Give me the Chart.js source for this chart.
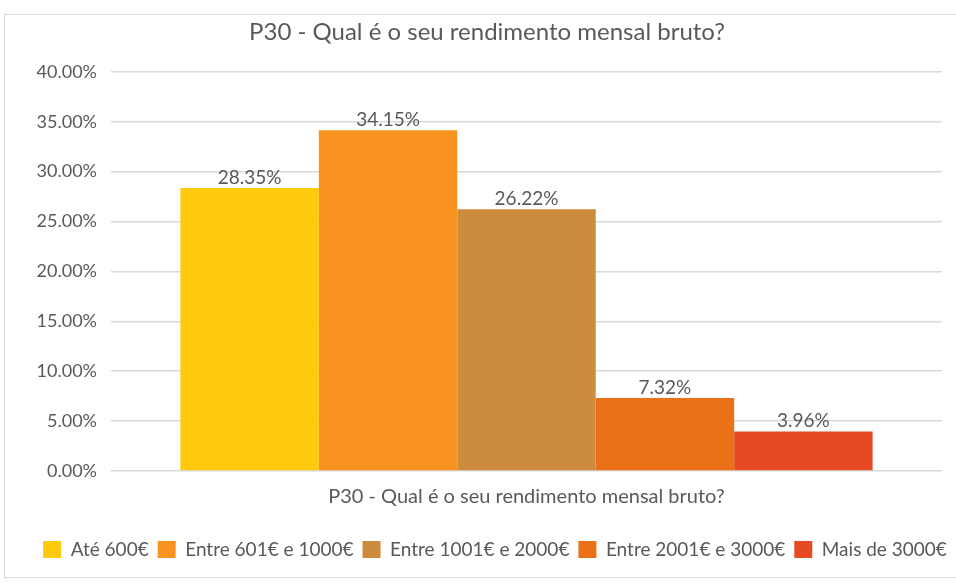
<!DOCTYPE html>
<html>
<head>
<meta charset="utf-8">
<script src="https://cdn.jsdelivr.net/npm/chart.js@4"></script>
<style>
  html, body { margin: 0; padding: 0; background: #fff; }
  #wrap { position: absolute; left: 0; top: 0; width: 956px; height: 583px; }
  #frame { position: absolute; left: 4px; top: 14px; width: 960px; height: 562px; border: 1px solid #d9d9d9; }
</style>
</head>
<body>
<div id="wrap">
  <div id="frame"></div>
  <canvas id="myChart" width="956" height="583"></canvas>
</div>
<script>
const title = 'P30 - Qual é o seu rendimento mensal bruto?';
const categories = ['P30 - Qual é o seu rendimento mensal bruto?'];
const seriesNames = ['Até 600€', 'Entre 601€ e 1000€', 'Entre 1001€ e 2000€', 'Entre 2001€ e 3000€', 'Mais de 3000€'];
const seriesValues = [28.35, 34.15, 26.22, 7.32, 3.96];
const seriesColors = ['#ffc90e', '#f7931e', '#cd8b3e', '#eb7119', '#e64a25'];

const fontFamily = 'Lato, "Open Sans", sans-serif';
const textColor = '#595959';

// labels over each bar
const barLabels = {
    id: 'barLabels',
    afterLayout(chart) {
        // legend and title sit a bit right of centre in the original
        chart.legend.left += 19;
        chart.legend.right += 19;
        chart.titleBlock.left += 11;
        chart.titleBlock.right += 11;
    },
    afterDatasetsDraw(chart) {
        const ctx = chart.ctx;
        ctx.save();
        ctx.font = '19px ' + fontFamily;
        ctx.fillStyle = textColor;
        ctx.textAlign = 'center';
        ctx.textBaseline = 'bottom';
        chart.data.datasets.forEach((ds, i) => {
            chart.getDatasetMeta(i).data.forEach((bar, j) => {
                ctx.fillText(ds.data[j].toFixed(2) + '%', bar.x, bar.y - 1);
            });
        });
        ctx.restore();
    }
};

const data = {
    labels: categories,
    datasets: seriesNames.map((name, i) => ({
        label: name,
        data: [seriesValues[i]],
        backgroundColor: seriesColors[i],
        borderWidth: 0,
        barPercentage: 1,
        categoryPercentage: 0.833
    }))
};

const config = {
    type: 'bar',
    data: data,
    options: {
        responsive: false,
        animation: false,
        layout: { padding: { left: 10, right: 14, top: 14, bottom: 14 } },
        plugins: {
            title: {
                display: true,
                text: title,
                color: textColor,
                font: { family: fontFamily, size: 24, weight: 'normal' },
                padding: { top: 4, bottom: 25 }
            },
            legend: {
                position: 'bottom',
                labels: {
                    color: textColor,
                    font: { family: fontFamily, size: 19 },
                    boxWidth: 18,
                    boxHeight: 17,
                    padding: 9
                }
            },
            tooltip: { enabled: false }
        },
        scales: {
            x: {
                grid: { display: false },
                border: { display: false },
                ticks: { color: textColor, font: { family: fontFamily, size: 20 }, padding: 6 },
                afterFit: s => { s.height += 16; }
            },
            y: {
                min: 0,
                max: 40,
                grid: { color: '#d9d9d9', lineWidth: 1.5, drawTicks: false },
                border: { display: false },
                ticks: {
                    stepSize: 5,
                    color: textColor,
                    font: { family: fontFamily, size: 18 },
                    padding: 14,
                    callback: v => v.toFixed(2) + '%'
                },
                afterFit: s => { s.width = 101; }
            }
        }
    },
    plugins: [barLabels]
};

const myChart = new Chart(document.getElementById('myChart'), config);
</script>
</body>
</html>
